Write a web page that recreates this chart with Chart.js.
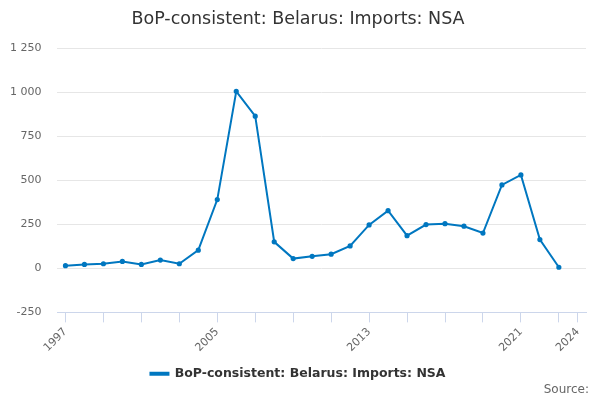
<!DOCTYPE html>
<html>
<head>
<meta charset="utf-8">
<script src="https://cdn.jsdelivr.net/npm/chart.js@4/dist/chart.umd.min.js"></script>
<style>
  html, body { margin: 0; padding: 0; background: #fff; }
  #wrap { width: 600px; height: 400px; }
</style>
</head>
<body>
<div id="wrap"><canvas id="grafico"></canvas></div>
<script>
const titulo = "BoP-consistent: Belarus: Imports: NSA";
const fuente = "Source:";
const years = [1997, 1998, 1999, 2000, 2001, 2002, 2003, 2004, 2005, 2006, 2007, 2008, 2009, 2010,
  2011, 2012, 2013, 2014, 2015, 2016, 2017, 2018, 2019, 2020, 2021, 2022, 2023];
const imports = [15, 22, 26, 39, 22, 47, 26, 103, 390, 1004, 863, 150, 55, 68,
  80, 127, 246, 327, 185, 248, 253, 239, 200, 473, 530, 163, 6];
const xTicks = [1997, 1999, 2001, 2003, 2005, 2007, 2009, 2011, 2013, 2015, 2017, 2019, 2021, 2023, 2024];
const xLabels = [1997, 2005, 2013, 2021, 2024];
const yTickPad = 16;

Chart.defaults.font.family = "'DejaVu Sans', sans-serif";

const fmt = (v) => String(v).replace(/\B(?=(\d{3})+(?!\d))/g, " ");

// "Source:" line in the bottom right corner
const sourcePlugin = {
  id: "sourceText",
  afterDraw(chart) {
    const ctx = chart.ctx;
    ctx.save();
    ctx.font = "12px 'DejaVu Sans', sans-serif";
    ctx.fillStyle = "#666666";
    ctx.textAlign = "right";
    ctx.textBaseline = "middle";
    ctx.fillText(fuente, chart.width - 11, 390);
    ctx.restore();
  },
};

const data = {
  datasets: [
    {
      label: titulo,
      data: years.map((y, i) => ({x: y, y: imports[i]})),
      borderColor: "#0077c0",
      backgroundColor: "#0077c0",
      borderWidth: 2,
      pointRadius: 1.6,
      pointHoverRadius: 4,
      tension: 0,
    },
  ],
};

const config = {
  type: "line",
  data: data,
  plugins: [sourcePlugin],
  options: {
    responsive: true,
    maintainAspectRatio: false,
    animation: false,
    layout: {padding: {left: 10, right: 14, top: 5, bottom: 10}},
    plugins: {
      title: {
        display: true,
        text: titulo,
        color: "#333333",
        font: {size: 17.5, weight: "normal"},
        padding: {top: 4, bottom: 18},
      },
      legend: {
        position: "bottom",
        labels: {
          color: "#333333",
          font: {size: 12.5, weight: "bold"},
          boxWidth: 18,
          boxHeight: 2,
          padding: 10,
        },
      },
      tooltip: {enabled: true},
    },
    scales: {
      x: {
        type: "linear",
        min: 1996.58,
        max: 2024.43,
        afterBuildTicks: (axis) => {
          axis.ticks = xTicks.map((v) => ({value: v}));
        },
        afterFit: (axis) => {
          axis.paddingLeft = 0;
          axis.paddingRight = 0;
        },
        ticks: {
          autoSkip: false,
          maxRotation: 45,
          minRotation: 45,
          color: "#666666",
          font: {size: 11},
          callback: (v) => (xLabels.includes(v) ? String(v) : ""),
        },
        grid: {
          drawOnChartArea: false,
          drawTicks: true,
          tickLength: 10,
          color: "#ccd6eb",
        },
        border: {display: true, color: "#ccd6eb"},
      },
      y: {
        min: -250,
        max: 1250,
        // chart.js counts the tick padding twice, drop the outer one
        afterFit: (axis) => {
          axis.width -= yTickPad;
        },
        ticks: {
          stepSize: 250,
          color: "#666666",
          font: {size: 11},
          padding: yTickPad,
          callback: (v) => fmt(v),
        },
        grid: {color: "#e6e6e6", drawTicks: false},
        border: {display: false},
      },
    },
  },
};

const myChart = new Chart(document.getElementById("grafico"), config);
</script>
</body>
</html>
